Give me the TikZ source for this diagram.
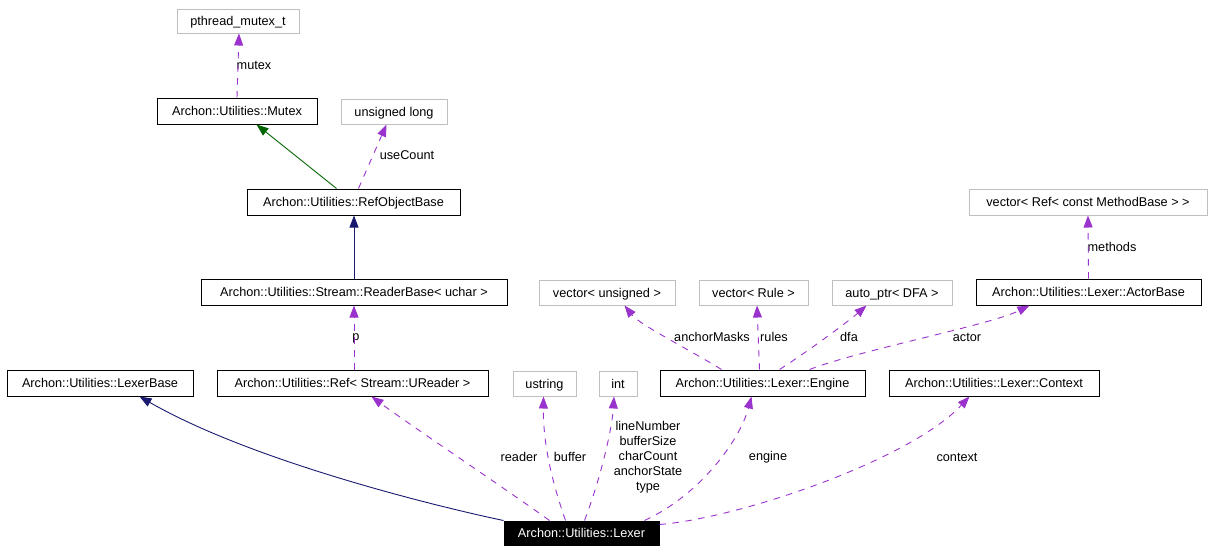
\documentclass[tikz,border=0pt]{standalone}
\usepackage{fontspec}
\setmainfont{Liberation Sans}
\usetikzlibrary{arrows.meta}
\definecolor{dpurple}{HTML}{9A32CD}
\definecolor{dnavy}{HTML}{191970}
\definecolor{dgreen}{HTML}{006400}
\definecolor{dgray}{HTML}{BFBFBF}
\begin{document}
\begin{tikzpicture}[x=1pt,y=-1pt,
  every node/.style={font=\fontsize{12.7}{15}\selectfont, inner sep=0pt},
  cls/.style={text height=9pt, text depth=0pt},
  box/.style={cls, draw=black, line width=1pt},
  ext/.style={cls, draw=dgray, line width=1pt},
  mainbox/.style={cls, draw=black, fill=black, text=white, line width=1pt},
  tip/.style={-{Triangle[length=12pt,width=9pt]}},
  use/.style={tip, draw=dpurple, line width=0.9pt, dash pattern=on 6.5pt off 6.5pt},
  inh/.style={tip, draw=dnavy, line width=0.9pt},
  inhg/.style={tip, draw=dgreen, line width=0.9pt},
  lbl/.style={text=black, align=center}
]
\useasboundingbox (0,0) rectangle (1213,552);

% nodes
\node[ext, minimum width=122pt, minimum height=24pt] (pm) at (238,21) {pthread\_mutex\_t};
\node[box, minimum width=160pt, minimum height=26pt] (mtx) at (237,111) {Archon::Utilities::Mutex};
\node[ext, minimum width=106pt, minimum height=25pt] (ul) at (394,111.5) {unsigned long};
\node[box, minimum width=213pt, minimum height=26pt] (rob) at (353.5,202) {Archon::Utilities::RefObjectBase};
\node[ext, minimum width=238pt, minimum height=26pt] (vm) at (1088,202) {vector< Ref< const MethodBase > >};
\node[box, minimum width=306pt, minimum height=26pt] (rb) at (354,292) {Archon::Utilities::Stream::ReaderBase< uchar >};
\node[ext, minimum width=136pt, minimum height=25pt] (vu) at (607,292.5) {vector< unsigned >};
\node[ext, minimum width=109pt, minimum height=25pt] (vr) at (753.5,292.5) {vector< Rule >};
\node[ext, minimum width=120pt, minimum height=25pt] (ap) at (892,292.5) {auto\_ptr< DFA >};
\node[box, minimum width=225pt, minimum height=26pt] (ab) at (1088.5,292) {Archon::Utilities::Lexer::ActorBase};
\node[box, minimum width=186pt, minimum height=26pt] (lb) at (100,383) {Archon::Utilities::LexerBase};
\node[box, minimum width=271pt, minimum height=26pt] (ref) at (352.5,383) {Archon::Utilities::Ref< Stream::UReader >};
\node[ext, minimum width=63pt, minimum height=25pt] (us) at (544.5,383.5) {ustring};
\node[ext, minimum width=38pt, minimum height=25pt] (int) at (618,383.5) {int};
\node[box, minimum width=205pt, minimum height=26pt] (eng) at (762.5,383) {Archon::Utilities::Lexer::Engine};
\node[box, minimum width=210pt, minimum height=26pt] (ctx) at (994,383) {Archon::Utilities::Lexer::Context};
\node[mainbox, minimum width=155pt, minimum height=24pt] (lex) at (581.5,533) {Archon::Utilities::Lexer};

% labels
\node[lbl] (lmutex) at (254,65) {mutex};
\node[lbl] (luse) at (407,155) {useCount};
\node[lbl] (lp) at (356,338) {p};
\node[lbl] (lmeth) at (1112,247) {methods};
\node[lbl] (lam) at (712,337) {anchorMasks};
\node[lbl] (lrules) at (774,337) {rules};
\node[lbl] (ldfa) at (849,337) {dfa};
\node[lbl] (lactor) at (967,337) {actor};
\node[lbl] (lreader) at (519,457) {reader};
\node[lbl] (lbuf) at (570,457) {buffer};
\node[lbl] (lint) at (648,457) {lineNumber\\bufferSize\\charCount\\anchorState\\type};
\node[lbl] (leng) at (768,457) {engine};
\node[lbl] (lctx) at (957,457) {context};

% connectors
\draw[use] (mtx.north) -- ([xshift=1pt]pm.south);
\draw[inhg] ([xshift=90pt]rob.north west) -- ([xshift=100pt]mtx.south west);
\draw[use] ([xshift=112pt]rob.north west) -- ([xshift=46pt]ul.south west);
\draw[inh] (rb.north) -- ([xshift=0.5pt]rob.south);
\draw[use] (ab.north) -- (vm.south);
\draw[use] ([xshift=1.5pt]ref.north) -- (rb.south);
\draw[use] ([xshift=62pt]eng.north west) .. controls (690,350) and (640,325) .. ([xshift=86pt]vu.south west);
\draw[use] ([xshift=100pt]eng.north west) -- ([xshift=3.5pt]vr.south);
\draw[use] ([xshift=120pt]eng.north west) .. controls (810,350) and (850,320) .. ([xshift=35pt]ap.south west);
\draw[use] ([xshift=150pt]eng.north west) .. controls (860,350) and (990,325) .. ([xshift=54pt]ab.south west);
\draw[inh] (lex.north west) .. controls (430,505) and (250,460) .. ([xshift=133pt]lb.south west);
\draw[use] ([xshift=46pt]lex.north west) .. controls (500,485) and (410,425) .. ([xshift=155pt]ref.south west);
\draw[use] ([xshift=62pt]lex.north west) .. controls (555,490) and (543,450) .. ([xshift=-1pt]us.south);
\draw[use] ([xshift=81pt]lex.north west) .. controls (600,480) and (612,430) .. ([xshift=-4pt]int.south);
\draw[use] ([xshift=141pt]lex.north west) .. controls (700,495) and (740,440) .. ([xshift=92pt]eng.south west);
\draw[use] ([yshift=-4pt]lex.north east) .. controls (740,518) and (910,460) .. ([xshift=81pt]ctx.south west);
\end{tikzpicture}
\end{document}
